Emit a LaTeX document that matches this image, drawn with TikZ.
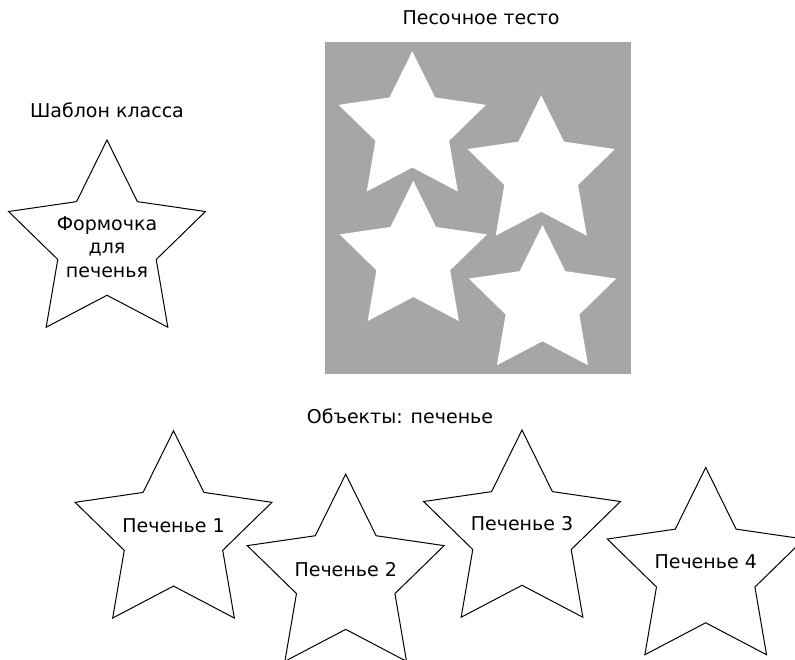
\documentclass[tikz,border=0pt]{standalone}
\usepackage{fontspec}
\setmainfont{DejaVu Sans}
\usepackage{tikz}
\usetikzlibrary{shapes.geometric}
\definecolor{doughgray}{RGB}{166,166,166}

\begin{document}
\begin{tikzpicture}[x=1pt,y=-1pt,
          cutter/.style={draw,line width=1pt,star,star points=5,
                         star point ratio=2,minimum size=207pt,inner sep=0pt},
          hole/.style={fill=white,star,star points=5,star point ratio=2,
                       minimum size=155pt,inner sep=0pt},
          caption/.style={font=\fontsize{19}{23.5}\selectfont,align=center}]
        \useasboundingbox (0,0) rectangle (795,659);
        % шаблон класса
        \node[caption](tmpltitle) at (107,110) {Шаблон класса};
        \node[cutter](tmpl) at (107,243.5) {};
        \node[caption](tmpltext) at (107,247) {Формочка\\для\\печенья};
        % тесто с вырезанными звёздами
        \node[caption](doughtitle) at (481,18) {Песочное тесто};
        \node[fill=doughgray,minimum width=306pt,minimum height=332pt,
              inner sep=0pt](dough) at (478,208) {};
        \node[hole](cutA) at (412.3,128.8) {};
        \node[hole](cutB) at (541.2,173)   {};
        \node[hole](cutC) at (413.3,258.3) {};
        \node[hole](cutD) at (542.5,302.5) {};
        % объекты
        \node[caption](objtitle) at (400,416) {Объекты: печенье};
        \node[cutter](ck1) at (173.5,534.3) {};
        \node[cutter](ck2) at (345.7,577.6) {};
        \node[cutter](ck3) at (522,533.5)   {};
        \node[cutter](ck4) at (705.7,571)   {};
        \node[caption](ck1txt) at ([yshift=9pt]ck1.center) {Печенье 1};
        \node[caption](ck2txt) at ([yshift=8pt]ck2.center) {Печенье 2};
        \node[caption](ck3txt) at ([yshift=10pt]ck3.center) {Печенье 3};
        \node[caption](ck4txt) at ([yshift=9pt]ck4.center) {Печенье 4};
      \end{tikzpicture}
\end{document}
